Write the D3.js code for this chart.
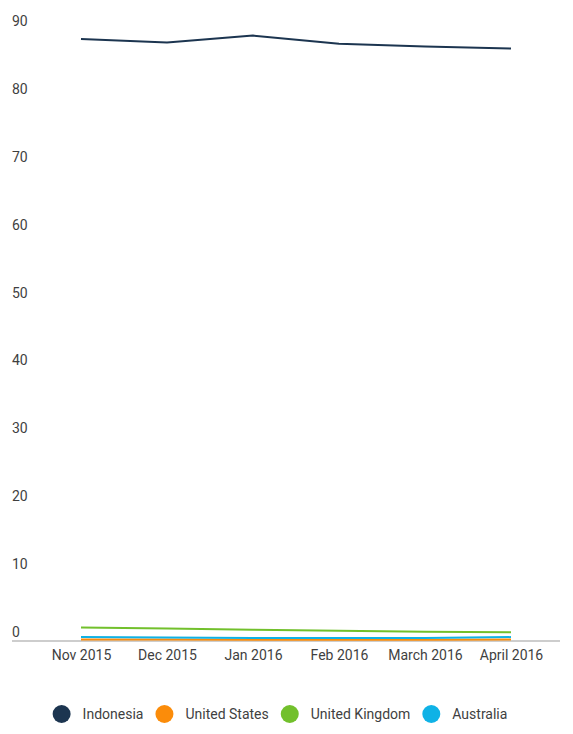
<!DOCTYPE html>
<html>
<head>
<meta charset="utf-8">
<script src="https://d3js.org/d3.v7.min.js"></script>
<style>
  body { margin: 0; background: #fff; }
  text { font-family: Roboto, 'Helvetica Neue', Arial, sans-serif; }
</style>
</head>
<body>
<svg id="chart" width="573" height="734"></svg>
<script>
const months = ['Nov 2015', 'Dec 2015', 'Jan 2016', 'Feb 2016', 'March 2016', 'April 2016'];
const yTicks = [0, 10, 20, 30, 40, 50, 60, 70, 80, 90];

const countries = ['Indonesia', 'United States', 'United Kingdom', 'Australia'];
const colors = ['#1c3550', '#fb8c0a', '#72c02c', '#0fb2e6'];

const indonesia = [88.6, 88.1, 89.1, 87.9, 87.5, 87.2];
const unitedStates = [0.15, 0.15, 0.12, 0.12, 0.12, 0.15];
const unitedKingdom = [1.9, 1.75, 1.6, 1.45, 1.3, 1.2];
const australia = [0.5, 0.45, 0.35, 0.35, 0.38, 0.5];

const seriesValues = [indonesia, unitedStates, unitedKingdom, australia];

const svg = d3.select('#chart');

const x = d3.scalePoint()
  .domain(months)
  .range([81, 511]);

const y = d3.scaleLinear()
  .domain([0, 90])
  .range([640.5, 29.5]);

// y tick labels sit just above their value
svg.append('g')
  .selectAll('text')
  .data(yTicks)
  .join('text')
  .attr('x', 12)
  .attr('y', d => y(d) - 3.5)
  .attr('fill', '#3f3f3f')
  .attr('font-size', '14px')
  .text(d => d);

// baseline
svg.append('line')
  .attr('x1', 12)
  .attr('x2', 560)
  .attr('y1', y(0) + 0.5)
  .attr('y2', y(0) + 0.5)
  .attr('stroke', '#bdbdbd')
  .attr('stroke-width', 1.5);

// x labels
const xAxis = d3.axisBottom(x).tickSize(0).tickPadding(0);
const gx = svg.append('g')
  .attr('transform', `translate(0, 650)`)
  .call(xAxis);
gx.select('.domain').remove();
gx.selectAll('text')
  .attr('fill', '#3f3f3f')
  .attr('font-size', '14px')
  .attr('font-family', 'Roboto, Arial, sans-serif')
  .attr('dy', '0.71em');

const line = d3.line()
  .x((d, i) => x(months[i]))
  .y(d => y(d));

svg.append('g')
  .selectAll('path')
  .data(seriesValues.map((v, i) => ({ name: countries[i], color: colors[i], values: v })))
  .join('path')
  .attr('fill', 'none')
  .attr('stroke', d => d.color)
  .attr('stroke-width', 2)
  .attr('stroke-linejoin', 'round')
  .attr('d', d => line(d.values));

// legend
const legend = svg.append('g').attr('class', 'legend');
const items = legend.selectAll('g')
  .data(countries)
  .join('g');

items.append('circle')
  .attr('r', 9)
  .attr('cy', 0)
  .attr('fill', (d, i) => colors[i]);

items.append('text')
  .attr('dy', '0.35em')
  .attr('fill', '#3f3f3f')
  .attr('font-size', '14px')
  .text(d => d);

let offset = 0;
items.each(function() {
  const g = d3.select(this);
  const w = g.select('text').node().getComputedTextLength();
  g.select('circle').attr('cx', 9);
  g.select('text').attr('x', 30);
  g.attr('transform', `translate(${offset}, 0)`);
  offset += 30 + w + 12;
});
const total = offset - 12;
legend.attr('transform', `translate(${280 - total / 2}, 714)`);
</script>
</body>
</html>
